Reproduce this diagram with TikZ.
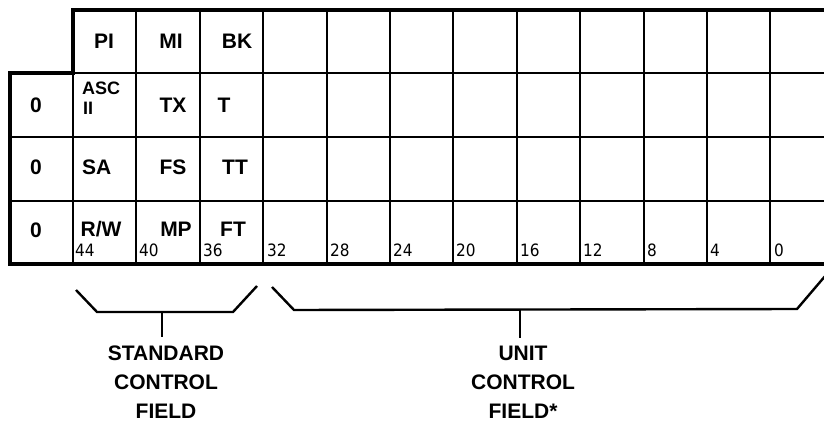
\documentclass[tikz,border=0pt]{standalone}
\usepackage{fontspec}
\setmainfont{Liberation Sans}
\newfontfamily\numfont{DejaVu Sans Condensed}
\begin{document}
\begin{tikzpicture}[x=1pt,y=-1pt,
  thickline/.style={line width=3.2pt,line cap=rect},
  thinline/.style={line width=2pt},
  bracket/.style={line width=2.4pt,line join=miter},
  lab/.style={font=\fontsize{21}{21}\selectfont\bfseries,inner sep=0pt},
  bitnum/.style={font=\numfont\fontsize{17}{17}\selectfont,inner sep=0pt,anchor=west},
  caption/.style={font=\fontsize{21}{29}\selectfont\bfseries,align=center,inner sep=0pt,anchor=north}]
\useasboundingbox (0,0) rectangle (824,435);
% grid lines
\foreach \x in {136.4,199.8,263.2,326.6,390,453.4,516.8,580.2,643.6,707,770.4}{
  \draw[thinline] (\x,10) -- (\x,264);
}
\draw[thinline] (73,137) -- (824,137);
\draw[thinline] (73,201) -- (824,201);
\draw[thinline] (10,137) -- (73,137);
\draw[thinline] (10,201) -- (73,201);
\draw[thinline] (73,73) -- (824,73);
\draw[thinline] (73,73) -- (73,264);
\draw[thickline] (824,10) -- (73,10) -- (73,73) -- (10,73) -- (10,264) -- (824,264);
% row 1
\node[lab] (pi) at (104,41) {PI};
\node[lab] (mi) at (171,41) {MI};
\node[lab] (bk) at (237,41) {BK};
% row 2
\node[lab] (z1) at (36,105) {0};
\node[lab,anchor=west,font=\fontsize{18}{18}\selectfont\bfseries] (asc) at (82,88) {ASC};
\node[lab,anchor=west,font=\fontsize{18}{18}\selectfont\bfseries] (ii) at (83,108) {II};
\node[lab] (tx) at (173,105) {TX};
\node[lab] (t) at (224,105) {T};
% row 3
\node[lab] (z2) at (36,167) {0};
\node[lab,anchor=west] (sa) at (82,167) {SA};
\node[lab] (fs) at (173,167) {FS};
\node[lab] (tt) at (235,167) {TT};
% row 4
\node[lab] (z3) at (36,230) {0};
\node[lab] (rw) at (101,229) {R/W};
\node[lab] (mp) at (176,229) {MP};
\node[lab] (ft) at (233,229) {FT};
% bit numbers
\foreach \x/\n in {75/44,139/40,203/36,267/32,330/28,393/24,456/20,520/16,583/12,647/8,710/4,774/0}{
  \node[bitnum] (b\n) at (\x,250) {\n};
}
% brackets
\coordinate (sa1) at (76,290);
\coordinate (sa2) at (97,312);
\coordinate (sa3) at (233,312);
\coordinate (sa4) at (257,286);
\coordinate (sstem) at (162,312);
\coordinate (sstemend) at (162,337);
\draw[bracket] (sa1) -- (sa2) -- (sa3) -- (sa4);
\draw[bracket] (sstem) -- (sstemend);
\coordinate (ua1) at (272,287);
\coordinate (ua2) at (294,310);
\coordinate (ua3) at (797,309);
\coordinate (ua4) at (826,275);
\coordinate (ustem) at (520,310);
\coordinate (ustemend) at (520,338);
\draw[bracket] (ua1) -- (ua2) -- (ua3) -- (ua4);
\draw[bracket] (ustem) -- (ustemend);
% captions
\node[caption] (scf) at (166,346) {STANDARD\\CONTROL\\FIELD};
\node[caption] (ucf) at (523,346) {UNIT\\CONTROL\\FIELD*};
\end{tikzpicture}
\end{document}
